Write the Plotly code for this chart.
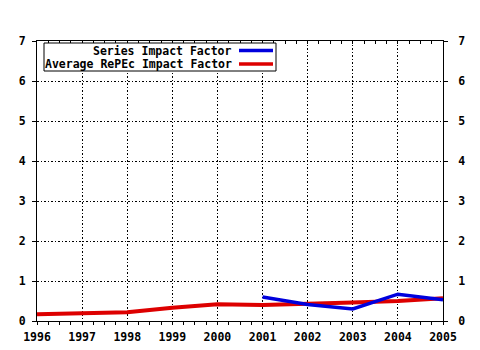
import plotly.graph_objects as go

years = [1996, 1997, 1998, 1999, 2000, 2001, 2002, 2003, 2004, 2005]
avg_repec_if = [0.17, 0.19, 0.22, 0.33, 0.42, 0.40, 0.42, 0.46, 0.50, 0.57]
series_years = [2001, 2002, 2003, 2004, 2005]
series_if = [0.60, 0.41, 0.30, 0.67, 0.53]

BLUE = "#0000dd"
RED = "#dd0000"
FONT = dict(family="DejaVu Sans Mono", size=11.5, color="black", weight="bold")

fig = go.Figure()
fig.add_trace(go.Scatter(x=years, y=avg_repec_if, mode="lines",
                         line=dict(color=RED, width=4), name="Average RePEc Impact Factor"))
fig.add_trace(go.Scatter(x=series_years, y=series_if, mode="lines",
                         line=dict(color=BLUE, width=3.5), name="Series Impact Factor"))

grid = dict(showgrid=True, gridcolor="black", gridwidth=1, griddash="1.5px,2px")

fig.update_layout(
    width=480, height=350,
    margin=dict(l=37, r=37, t=41, b=29, autoexpand=False),
    paper_bgcolor="white", plot_bgcolor="white",
    showlegend=False,
    font=FONT,
    xaxis=dict(range=[1996, 2005], tickvals=years, ticks="outside", ticklen=3,
               tickcolor="black", linecolor="black", linewidth=1, showline=True,
               zeroline=False, tickfont=FONT, automargin=False, ticklabelstandoff=2,
               minor=dict(dtick=0.25, ticks="outside", ticklen=3, tickcolor="black",
                          showgrid=False),
               **grid),
    xaxis2=dict(range=[1996, 2005], overlaying="x", side="top", anchor="y",
                tickvals=years, ticks="inside", ticklen=3, tickcolor="black",
                showticklabels=False, showline=True, linecolor="black",
                showgrid=False, zeroline=False, automargin=False,
                minor=dict(dtick=0.25, ticks="inside", ticklen=3, tickcolor="black")),
    yaxis=dict(range=[0, 7], dtick=1, ticks="outside", ticklen=4, tickcolor="black",
               linecolor="black", linewidth=1, showline=True, zeroline=False,
               tickfont=FONT, automargin=False, ticklabelstandoff=4, **grid),
    yaxis2=dict(range=[0, 7], dtick=1, overlaying="y", side="right", anchor="x",
                ticks="outside", ticklen=4, tickcolor="black", showline=True,
                linecolor="black", showgrid=False, zeroline=False, tickfont=FONT,
                automargin=False, ticklabelstandoff=8),
)

# invisible trace so the mirrored axes are laid out
fig.add_trace(go.Scatter(x=[1996, 2005], y=[0, 0], xaxis="x2", yaxis="y2",
                         mode="lines", line=dict(width=0), hoverinfo="skip"))

# legend: right-aligned labels with sample lines to their right
fig.add_shape(type="rect", xref="paper", yref="paper",
              x0=(44 - 37) / 406, x1=(276 - 37) / 406,
              y0=(321 - 71) / 280, y1=(321 - 43) / 280,
              line=dict(color="black", width=1), fillcolor="white", layer="above")
for label, color, ypix in [("Series Impact Factor", BLUE, 50.5),
                           ("Average RePEc Impact Factor", RED, 64)]:
    yp = (321 - ypix) / 280
    fig.add_annotation(text=label, xref="paper", yref="paper",
                       x=(233 - 37) / 406, y=yp, xanchor="right", yanchor="middle",
                       showarrow=False, font=FONT, borderpad=0)
    fig.add_shape(type="line", xref="paper", yref="paper",
                  x0=(239 - 37) / 406, x1=(273 - 37) / 406, y0=yp, y1=yp,
                  line=dict(color=color, width=3.5), layer="above")

fig.write_html("out.html")
